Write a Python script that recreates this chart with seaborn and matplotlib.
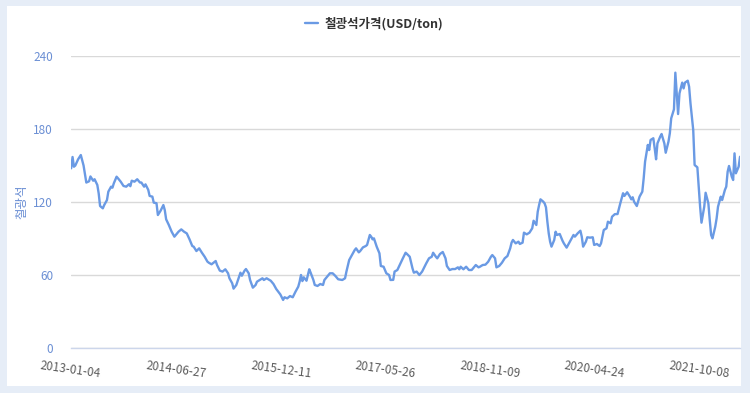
import matplotlib
matplotlib.use("Agg")
import matplotlib.pyplot as plt
import matplotlib.patches as mpatches
import seaborn as sns
import pandas as pd
import numpy as np

# weekly iron ore price, week number counted from 2013-01-04
start_date = "2013-01-04"
week = [0, 1, 2, 3, 5, 7, 9, 11, 13, 14, 16, 17, 19, 20, 21, 23, 24, 26, 27, 29,
        30, 31, 33, 34, 36, 38, 40, 42, 43, 44, 46, 48, 50, 51, 53, 54, 56, 57, 59, 60,
        62, 63, 65, 67, 68, 69, 71, 73, 75, 78, 80, 82, 84, 86, 88, 89, 91, 93, 95, 97,
        99, 100, 102, 105, 106, 108, 110, 112, 114, 115, 117, 118, 120, 122, 123, 124, 126, 127, 129, 130,
        132, 134, 135, 137, 139, 140, 142, 145, 147, 149, 152, 154, 155, 157, 159, 161, 163, 165, 166, 167,
        168, 169, 171, 173, 174, 176, 177, 179, 181, 183, 184, 186, 188, 190, 192, 194, 197, 199, 200, 202,
        204, 206, 207, 209, 210, 212, 214, 215, 217, 218, 219, 220, 222, 224, 225, 227, 229, 231, 232, 234,
        235, 237, 239, 241, 243, 244, 246, 248, 249, 251, 253, 255, 257, 258, 260, 262, 263, 265, 266, 268,
        270, 272, 273, 275, 277, 279, 281, 282, 283, 285, 287, 289, 291, 292, 294, 296, 297, 299, 301, 303,
        305, 306, 308, 309, 311, 313, 315, 317, 319, 320, 321, 323, 325, 326, 328, 329, 331, 333, 335, 336,
        338, 339, 340, 341, 343, 344, 345, 346, 347, 348, 349, 351, 352, 353, 355, 357, 358, 360, 362, 363,
        365, 366, 368, 370, 371, 372, 374, 375, 377, 379, 380, 382, 384, 385, 387, 389, 390, 392, 393, 395,
        397, 399, 401, 402, 404, 406, 407, 408, 409, 411, 413, 415, 416, 417, 419, 420, 421, 423, 424, 425,
        426, 428, 429, 431, 432, 434, 435, 436, 438, 439, 440, 441, 442, 444, 445, 446, 448, 449, 450, 452,
        453, 455, 456, 457, 458, 460, 461, 463, 464, 465, 466, 468, 469, 470, 472, 473, 475, 476, 477, 478,
        480, 481, 482, 483, 485, 486]
price = [147.7, 157.0, 149.0, 150.0, 155.0, 158.6, 150.0, 136.0, 137.0, 141.0, 137.5, 138.7, 134.0, 127.0, 116.7, 114.8, 117.5, 121.6, 128.5, 132.6,
         131.8, 135.4, 140.8, 139.5, 136.7, 133.2, 132.6, 134.6, 133.0, 137.5, 136.7, 138.7, 136.0, 136.0, 132.6, 134.5, 130.0, 125.0, 124.4, 119.5,
         119.0, 109.3, 112.9, 117.5, 113.4, 105.8, 101.0, 95.6, 91.5, 95.6, 97.5, 95.6, 94.2, 89.3, 83.8, 83.3, 79.7, 81.9, 78.3, 75.0,
         71.0, 70.1, 68.8, 71.5, 68.2, 63.6, 62.8, 64.7, 61.4, 57.3, 53.2, 48.8, 51.8, 58.6, 61.9, 59.4, 63.6, 64.9, 61.4, 55.9,
         49.6, 51.8, 54.5, 55.9, 57.3, 55.9, 57.3, 55.3, 52.6, 48.5, 44.0, 39.5, 41.7, 40.8, 42.7, 41.7, 46.3, 50.4, 54.5, 60.0,
         55.0, 58.1, 55.3, 64.7, 61.9, 55.9, 51.8, 51.0, 52.6, 51.8, 55.9, 58.6, 61.4, 61.4, 59.2, 56.5, 55.9, 57.3, 62.8, 72.3,
         76.4, 80.5, 81.9, 78.6, 79.7, 82.7, 83.8, 84.7, 92.9, 91.5, 89.3, 90.1, 83.3, 77.8, 67.4, 66.8, 61.4, 60.0, 55.9, 56.0,
         62.8, 64.1, 69.0, 73.7, 78.3, 77.3, 75.0, 65.5, 61.9, 62.8, 60.0, 62.8, 67.4, 69.6, 73.7, 75.0, 78.3, 75.0, 73.7, 77.3,
         78.9, 73.7, 67.4, 64.1, 64.9, 64.9, 66.3, 64.7, 66.8, 64.7, 66.8, 64.1, 64.1, 65.5, 68.2, 66.3, 66.8, 68.2, 68.5, 70.9,
         75.0, 76.4, 73.7, 66.3, 67.4, 70.1, 73.7, 75.6, 81.9, 86.6, 88.8, 86.0, 87.4, 85.5, 86.6, 94.8, 93.4, 94.8, 98.4, 104.6,
         101.1, 112.0, 117.5, 122.2, 120.3, 118.9, 115.6, 104.0, 94.2, 87.4, 83.3, 88.8, 95.6, 92.9, 93.7, 88.2, 86.0, 82.5, 86.6, 88.8,
         92.9, 91.5, 94.2, 96.4, 91.5, 83.3, 87.4, 91.0, 90.7, 91.0, 84.7, 85.5, 83.8, 86.0, 97.0, 98.4, 103.8, 102.5, 107.9, 110.0,
         110.1, 118.9, 127.2, 125.0, 128.0, 124.4, 122.2, 123.9, 120.3, 116.7, 124.4, 128.5, 139.5, 153.1, 166.9, 162.7, 171.0, 172.4, 164.1, 155.1,
         168.2, 173.7, 175.9, 168.2, 160.5, 169.6, 176.5, 188.8, 196.2, 226.3, 209.3, 192.3, 209.3, 218.1, 213.4, 218.1, 219.7, 214.8, 201.1, 179.2,
         150.4, 148.5, 132.6, 116.1, 103.0, 116.1, 127.6, 118.9, 105.2, 92.9, 90.1, 99.7, 106.6, 116.1, 124.4, 121.6, 129.9, 132.6, 144.9, 149.6,
         140.8, 138.1, 160.0, 143.6, 149.0, 157.2]

tick_dates = ["2013-01-04", "2014-06-27", "2015-12-11", "2017-05-26",
              "2018-11-09", "2020-04-24", "2021-10-08"]
y_ticks = [0, 60, 120, 180, 240]
series_name = "철광석가격(USD/ton)"
y_title = "철광석"

start = pd.Timestamp(start_date)
df = pd.DataFrame({
    "date": start + pd.to_timedelta(np.array(week) * 7, unit="D"),
    "price": price,
})

sns.set_style("white")
plt.rcParams["font.family"] = ["Noto Sans CJK KR", "DejaVu Sans"]

blue = "#6a9ae4"
label_blue = "#6b8fd4"

fig = plt.figure(figsize=(7.5, 3.93), dpi=100, facecolor="#e6edf7")
# white card behind the chart
fig.patches.append(mpatches.Rectangle((0.0093, 0.0178), 0.9787, 0.9669,
                                      transform=fig.transFigure, facecolor="white",
                                      edgecolor="none", zorder=-1))
ax = fig.add_axes([0.0949, 0.1145, 0.8918, 0.743])
ax.set_facecolor("white")

sns.lineplot(data=df, x="date", y="price", ax=ax, color=blue, linewidth=1.7,
             label=series_name)

ax.set_xlim(start, start + pd.Timedelta(weeks=486))
ax.set_ylim(0, 240)
ax.set_yticks(y_ticks)
ax.set_xticks(pd.to_datetime(tick_dates))
ax.set_xticklabels(tick_dates, rotation=-8, ha="center", va="top",
                   rotation_mode="anchor", fontsize=8.5, color="#5a5a5a")
ax.tick_params(axis="x", length=7, width=1, color="#ccd6eb", pad=4, direction="out")
ax.tick_params(axis="y", length=0, pad=13, labelsize=8.5, labelcolor=label_blue)

ax.grid(axis="y", color="#d9d9d9", linewidth=1)
ax.set_axisbelow(True)
for side in ["top", "right", "left"]:
    ax.spines[side].set_visible(False)
ax.spines["bottom"].set_color("#ccd6eb")
ax.spines["bottom"].set_linewidth(1)

ax.set_xlabel("")
ax.set_ylabel(y_title, color=label_blue, fontsize=9)
ax.yaxis.set_label_coords(-0.064, 0.5)

ax.legend(loc="upper center", bbox_to_anchor=(0.4987, 0.985),
          bbox_transform=fig.transFigure, frameon=False, handlelength=1.1,
          handletextpad=0.5, prop={"size": 9, "weight": "bold"},
          labelcolor="#333333")

fig.savefig("out.png", dpi=100, facecolor=fig.get_facecolor())
